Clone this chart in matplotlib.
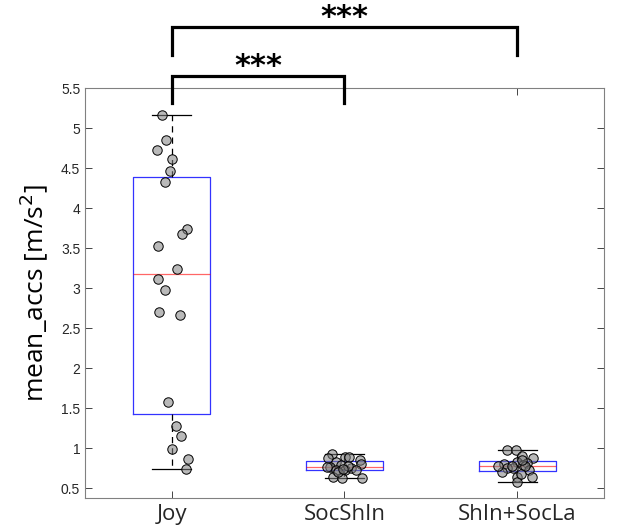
import numpy as np
import matplotlib
matplotlib.use("Agg")
import matplotlib.pyplot as plt

# --- data ---
groups = ["Joy", "SocShIn", "ShIn+SocLa"]

joy = [5.16, 4.85, 4.73, 4.61, 4.46, 4.32, 3.74, 3.67, 3.52, 3.24,
       3.11, 2.98, 2.70, 2.66, 1.57, 1.28, 1.15, 0.99, 0.86, 0.74]
joy_jit = [-0.053, -0.030, -0.085, 0.005, -0.007, -0.040, 0.088, 0.063, -0.077, 0.030,
           -0.078, -0.036, -0.071, 0.051, -0.020, 0.024, 0.057, 0.003, 0.097, 0.086]

soc = [0.93, 0.87, 0.89, 0.89, 0.83, 0.85, 0.80, 0.76, 0.79, 0.75,
       0.72, 0.73, 0.73, 0.64, 0.62, 0.63, 0.70, 0.78, 0.76, 0.74]
soc_jit = [-0.075, -0.098, 0.004, 0.027, -0.052, 0.091, 0.097, -0.081, -0.023, 0.039,
           0.068, 0.004, -0.052, -0.064, -0.017, 0.103, -0.040, 0.022, -0.104, -0.006]

shin = [0.98, 0.98, 0.90, 0.88, 0.83, 0.81, 0.80, 0.79, 0.75, 0.72,
        0.75, 0.70, 0.77, 0.78, 0.64, 0.64, 0.58, 0.68, 0.78, 0.85]
shin_jit = [-0.058, -0.009, 0.024, 0.092, -0.001, 0.054, -0.080, 0.034, -0.024, 0.064,
            -0.058, -0.092, -0.030, 0.042, 0.082, -0.001, -0.001, 0.018, -0.110, 0.024]

data = [joy, soc, shin]
jitter = [joy_jit, soc_jit, shin_jit]

# significance brackets: (group a, group b, bar height, leg bottom, label)
sig_pairs = [(1, 2, 5.65, 5.31, "***"), (1, 3, 6.26, 5.91, "***")]


def matlab_stats(vals, label):
    v = np.asarray(vals)
    q1, med, q3 = np.percentile(v, [25, 50, 75], method="hazen")
    iqr = q3 - q1
    lo = v[v >= q1 - 1.5 * iqr].min()
    hi = v[v <= q3 + 1.5 * iqr].max()
    return dict(med=med, q1=q1, q3=q3, whislo=lo, whishi=hi, fliers=[], label=label)


plt.rcParams["font.family"] = ["Liberation Sans", "DejaVu Sans"]

fig = plt.figure(figsize=(6.21, 5.28), dpi=100)
ax = fig.add_axes([0.137, 0.0568, 0.8355, 0.7765])

stats = [matlab_stats(d, g) for d, g in zip(data, groups)]
ax.bxp(stats, positions=[1, 2, 3], widths=0.45, showfliers=False,
       boxprops=dict(color="#0000ff", linewidth=0.9, alpha=0.8),
       medianprops=dict(color="#ff0000", linewidth=0.9, alpha=0.6),
       whiskerprops=dict(color="black", linestyle=(0, (5, 4)), linewidth=0.9),
       capprops=dict(color="black", linewidth=0.9),
       capwidths=0.225)

for i, (d, j) in enumerate(zip(data, jitter)):
    x = i + 1 + np.asarray(j)
    ax.scatter(x, d, s=46, facecolors=(0.5, 0.5, 0.5, 0.55),
               edgecolors="black", linewidths=0.7, zorder=3)

ax.set_xlim(0.5, 3.5)
ax.set_ylim(0.375, 5.5)
ax.set_yticks(np.arange(0.5, 5.51, 0.5))
ax.set_yticklabels([f"{t:g}" for t in np.arange(0.5, 5.51, 0.5)])
ax.set_xticks([1, 2, 3])
ax.set_xticklabels(groups, family=["Open Sans", "DejaVu Sans"], fontsize=16)
ax.tick_params(axis="y", labelsize=10, labelcolor="#262626")
ax.tick_params(axis="x", labelcolor="#262626", pad=4)
ax.tick_params(direction="in", color="#262626", length=5, width=0.6,
               top=True, right=True)
for sp in ax.spines.values():
    sp.set_color("#808080")
    sp.set_linewidth(0.8)

ax.set_ylabel("mean_accs [m/s$^2$]", family=["Open Sans", "DejaVu Sans"],
              fontsize=19, labelpad=8)

for a, b, top, leg, lab in sig_pairs:
    ax.plot([a, a, b, b], [leg, top, top, leg], color="black", linewidth=2.3,
            clip_on=False, solid_joinstyle="miter", zorder=5)
    ax.text((a + b) / 2, top + 0.01, lab, ha="center", va="baseline",
            fontsize=22, fontweight="bold", family="DejaVu Sans", clip_on=False)

fig.savefig("out.png", dpi=100)
